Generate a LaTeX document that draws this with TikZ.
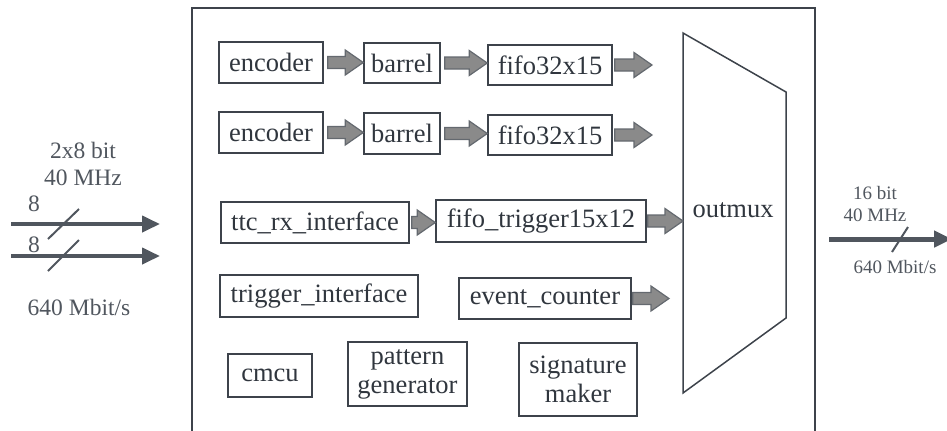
\documentclass[tikz,border=0pt]{standalone}
\usepackage{fontspec}
\setmainfont{Liberation Serif}
\usepackage{xcolor}
\usepackage{tikz}
\usetikzlibrary{calc,arrows.meta}

\definecolor{linegray}{HTML}{3D434B}
\definecolor{textgray}{HTML}{30363E}
\definecolor{labelgray}{HTML}{50565E}
\definecolor{arrowfill}{HTML}{8A8A8A}

\tikzset{
  block/.style={draw=linegray,line width=0.75pt,inner sep=0pt,text=textgray,
    font=\fontsize{13.25}{14.5}\selectfont,align=center},
  fatarr/.style={draw=linegray!80,fill=arrowfill,line width=0.6pt,line join=miter},
  bus/.style={draw=labelgray,line width=2pt,-{Triangle[length=9pt,width=8pt]}},
  slash/.style={draw=labelgray,line width=1pt},
  lbl/.style={text=labelgray,font=\fontsize{11.75}{13}\selectfont,inner sep=0pt},
  rlbl/.style={text=labelgray,font=\fontsize{9.5}{11}\selectfont,inner sep=0pt}
}

% grey block arrow from #1 to #2, at the height of #1
\newcommand{\fatarrow}[2]{%
  \draw[fatarr] let \p1=(#1), \p2=(#2) in
    (\x1,\y1+3pt) -- (\x2-9pt,\y1+3pt) -- (\x2-9pt,\y1+6.25pt) -- (\x2,\y1)
    -- (\x2-9pt,\y1-6.25pt) -- (\x2-9pt,\y1-3pt) -- (\x1,\y1-3pt) -- cycle;}

\begin{document}
\begin{tikzpicture}[x=0.5pt,y=-0.5pt]
  \useasboundingbox (0,0) rectangle (947,430);

  % chip outline
  \draw[linegray,line width=1pt] (192,432) -- (192,8) -- (815,8) -- (815,432);

  % data paths
  \node[block,minimum width=52pt,minimum height=20.5pt] (enc1) at (271,62.5) {encoder};
  \node[block,minimum width=38pt,minimum height=20pt] (bar1) at (402,63) {barrel};
  \node[block,minimum width=62pt,minimum height=20pt] (fifo1) at (550,65) {fifo32x15};
  \node[block,minimum width=52pt,minimum height=20.5pt] (enc2) at (271,132.5) {encoder};
  \node[block,minimum width=38pt,minimum height=20.5pt] (bar2) at (402,133.5) {barrel};
  \node[block,minimum width=62pt,minimum height=20pt] (fifo2) at (550,135) {fifo32x15};

  % trigger path
  \node[block,minimum width=94pt,minimum height=20.5pt] (ttc) at (315,222.5) {ttc\_rx\_interface};
  \node[block,minimum width=105pt,minimum height=21pt] (fifotrig) at (541,221) {fifo\_trigger15x12};
  \node[block,minimum width=99pt,minimum height=21pt] (trigif) at (319,296) {trigger\_interface};
  \node[block,minimum width=86pt,minimum height=20.5pt] (evcnt) at (545,298.5) {event\_counter};

  % misc blocks
  \node[block,minimum width=42pt,minimum height=21.5pt] (cmcu) at (270,375.5) {cmcu};
  \node[block,minimum width=59.5pt,minimum height=32pt] (patgen) at (407.5,374) {pattern\\generator};
  \node[block,minimum width=59pt,minimum height=36.5pt] (sigmk) at (578,379.5) {signature\\maker};

  % output multiplexer
  \coordinate (mux-tl) at (683,33);
  \coordinate (mux-tr) at (786,92);
  \coordinate (mux-br) at (786,318);
  \coordinate (mux-bl) at (683,393);
  \draw[linegray,line width=0.75pt] (mux-tl) -- (mux-tr) -- (mux-br) -- (mux-bl) -- cycle;
  \node[text=textgray,font=\fontsize{13.25}{14.5}\selectfont,inner sep=0pt] (outmux) at (733,210) {outmux};
  \coordinate (muxin) at (683,221);

  \coordinate (out1) at (652,65);
  \coordinate (out2) at (652,135);
  \coordinate (out3) at (669,298.5);

  \fatarrow{$(enc1.east)+(4,0)$}{bar1.west}
  \fatarrow{$(bar1.east)+(4,0)$}{fifo1.west}
  \fatarrow{$(fifo1.east)+(2,0)$}{out1}
  \fatarrow{$(enc2.east)+(4,0)$}{bar2.west}
  \fatarrow{$(bar2.east)+(4,0)$}{fifo2.west}
  \fatarrow{$(fifo2.east)+(2,0)$}{out2}
  \fatarrow{$(ttc.east)+(2,0)$}{fifotrig.west}
  \fatarrow{$(fifotrig.east)+(1,0)$}{muxin}
  \fatarrow{$(evcnt.east)+(1,0)$}{out3}

  % input links
  \coordinate (in1s) at (11,224);
  \coordinate (in1e) at (160,224);
  \coordinate (in2s) at (11,256);
  \coordinate (in2e) at (160,256);
  \draw[bus] (in1s) -- (in1e);
  \draw[bus] (in2s) -- (in2e);
  \draw[slash] (48,239) -- (79,209);
  \draw[slash] (48,271) -- (79,240);
  \node[lbl] (n1) at (34,204) {8};
  \node[lbl] (n2) at (34,245) {8};
  \node[lbl] (inbits) at (83,150) {2x8 bit};
  \node[lbl] (infreq) at (83,178) {40 MHz};
  \node[lbl] (inrate) at (79,307) {640 Mbit/s};

  % output link
  \coordinate (outs) at (829,239);
  \coordinate (oute) at (952,239);
  \draw[bus,line width=2.5pt] (outs) -- (oute);
  \draw[slash] (892,252) -- (908,227);
  \node[rlbl] (outbits) at (875,193) {16 bit};
  \node[rlbl] (outfreq) at (875,215) {40 MHz};
  \node[rlbl] (outrate) at (895,267) {640 Mbit/s};
\end{tikzpicture}
\end{document}
